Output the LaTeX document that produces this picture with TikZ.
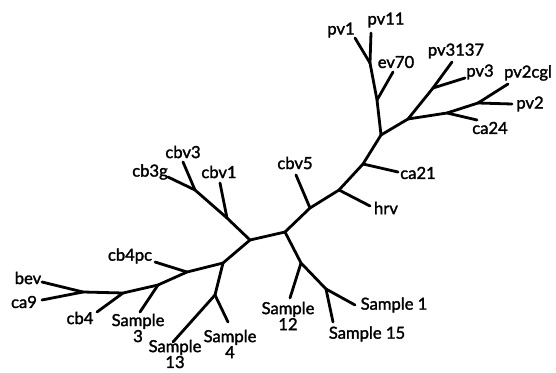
\documentclass[tikz,border=0pt]{standalone}
\usepackage{fontspec}
\setmainfont{Lato}
\font\labfont="Lato:embolden=1.8" at 16.6pt
\newcommand\lfa{\labfont\baselineskip=16pt\relax}
\newcommand\lfb{\labfont\baselineskip=13.5pt\relax}
\begin{document}
\begin{tikzpicture}[x=1pt,y=-1pt,
  br/.style={line width=2.8pt,line cap=round,line join=round},
  lab/.style={inner sep=0pt,font=\lfa,align=center}]
\useasboundingbox (0,0) rectangle (556,372);
% internal nodes
\coordinate (A) at (250,240);
\coordinate (B) at (285,232);
\coordinate (Jcbv1) at (227,218);
\coordinate (Jcb3) at (195,190);
\coordinate (C) at (223,263);
\coordinate (D) at (187,272);
\coordinate (E) at (158,285);
\coordinate (F) at (123,293);
\coordinate (G) at (83,292);
\coordinate (H) at (215,295);
\coordinate (I) at (301,263);
\coordinate (J) at (326,289);
\coordinate (K) at (310,208);
\coordinate (L) at (339,190);
\coordinate (M) at (363,164);
\coordinate (N) at (381,135);
\coordinate (O) at (377,100);
\coordinate (P) at (370,63);
\coordinate (Q) at (408,119);
\coordinate (R) at (433,88);
\coordinate (S) at (447,113);
\coordinate (T) at (478,103);
% leaf ends
\coordinate (lcbv1) at (220,183);
\coordinate (lcb3g) at (168,177);
\coordinate (lcbv3) at (183,162);
\coordinate (lcb4pc) at (155,262);
\coordinate (ls3) at (140,312);
\coordinate (lcb4) at (97,312);
\coordinate (lbev) at (42,282);
\coordinate (lca9) at (42,300);
\coordinate (ls13) at (173,342);
\coordinate (ls4) at (228,322);
\coordinate (ls12) at (290,298);
\coordinate (ls1) at (355,305);
\coordinate (ls15) at (333,322);
\coordinate (lcbv5) at (296,175);
\coordinate (lhrv) at (370,206);
\coordinate (lca21) at (398,172);
\coordinate (lev70) at (393,72);
\coordinate (lpv1) at (355,38);
\coordinate (lpv11) at (371,33);
\coordinate (lpv3137) at (452,62);
\coordinate (lpv3) at (465,78);
\coordinate (lca24) at (477,120);
\coordinate (lpvcgl) at (508,84);
\coordinate (lpv2) at (512,104);
% branches
\draw[br] (A) -- (B);
\draw[br] (A) -- (Jcbv1) -- (Jcb3);
\draw[br] (Jcbv1) -- (lcbv1);
\draw[br] (Jcb3) -- (lcb3g);
\draw[br] (Jcb3) -- (lcbv3);
\draw[br] (A) -- (C) -- (D) -- (E) -- (F) -- (G);
\draw[br] (D) -- (lcb4pc);
\draw[br] (E) -- (ls3);
\draw[br] (F) -- (lcb4);
\draw[br] (G) -- (lbev);
\draw[br] (G) -- (lca9);
\draw[br] (C) -- (H);
\draw[br] (H) -- (ls13);
\draw[br] (H) -- (ls4);
\draw[br] (B) -- (I) -- (J);
\draw[br] (I) -- (ls12);
\draw[br] (J) -- (ls1);
\draw[br] (J) -- (ls15);
\draw[br] (B) -- (K) -- (L) -- (M) -- (N);
\draw[br] (K) -- (lcbv5);
\draw[br] (L) -- (lhrv);
\draw[br] (M) -- (lca21);
\draw[br] (N) -- (O) -- (P);
\draw[br] (O) -- (lev70);
\draw[br] (P) -- (lpv1);
\draw[br] (P) -- (lpv11);
\draw[br] (N) -- (Q) -- (R);
\draw[br] (R) -- (lpv3137);
\draw[br] (R) -- (lpv3);
\draw[br] (Q) -- (S) -- (T);
\draw[br] (S) -- (lca24);
\draw[br] (T) -- (lpvcgl);
\draw[br] (T) -- (lpv2);
% labels
\node[lab] (tcbv1) at (219,172) {cbv1};
\node[lab] (tcb3g) at (150,172) {cb3g};
\node[lab] (tcbv3) at (183,152) {cbv3};
\node[lab] (tcb4pc) at (130,256) {cb4pc};
\node[lab] (ts3) at (138,328) {Sample\\3};
\node[lab] (tcb4) at (80,318) {cb4};
\node[lab] (tbev) at (28,278) {bev};
\node[lab] (tca9) at (24,302) {ca9};
\node[lab,font=\lfb] (ts13) at (175,354) {Sample\\13};
\node[lab] (ts4) at (230,344) {Sample\\4};
\node[lab] (ts12) at (288,316) {Sample\\12};
\node[lab] (ts1) at (394,305) {Sample 1};
\node[lab] (ts15) at (367,334) {Sample 15};
\node[lab] (tcbv5) at (295,163) {cbv5};
\node[lab] (thrv) at (386,208) {hrv};
\node[lab] (tca21) at (418,173) {ca21};
\node[lab] (tev70) at (396,62) {ev70};
\node[lab] (tpv1) at (341,30) {pv1};
\node[lab] (tpv11) at (386,20) {pv11};
\node[lab] (tpv3137) at (456,51) {pv3137};
\node[lab] (tpv3) at (480,72) {pv3};
\node[lab] (tca24) at (490,128) {ca24};
\node[lab] (tpvcgl) at (528,73) {pv2cgl};
\node[lab] (tpv2) at (530,104) {pv2};
\end{tikzpicture}
\end{document}
